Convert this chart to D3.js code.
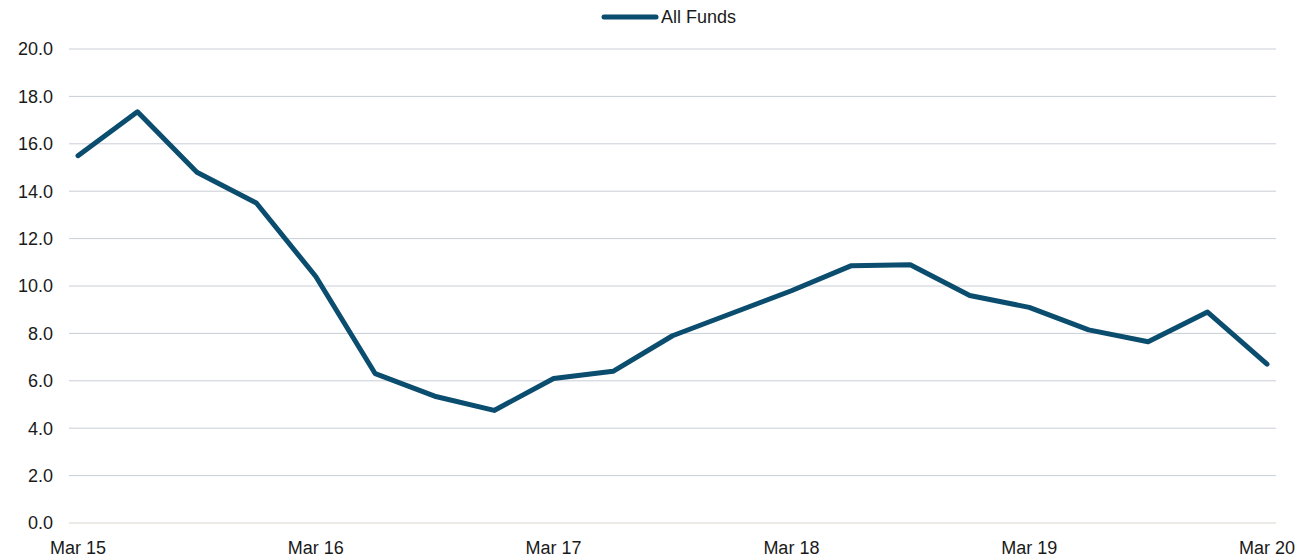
<!DOCTYPE html>
<html>
<head>
<meta charset="utf-8">
<script src="https://cdn.jsdelivr.net/npm/d3@7"></script>
<style>
  body { margin: 0; background: #fff; }
  svg text { font-family: "Liberation Sans", Arial, sans-serif; fill: #1a1a1a; }
</style>
</head>
<body>
<div class="chart"></div>
<script>
// quarterly points, Mar 15 .. Mar 20
const quarters = ['Mar 15','Jun 15','Sep 15','Dec 15','Mar 16','Jun 16','Sep 16','Dec 16',
  'Mar 17','Jun 17','Sep 17','Dec 17','Mar 18','Jun 18','Sep 18','Dec 18',
  'Mar 19','Jun 19','Sep 19','Dec 19','Mar 20'];
const allFunds = [15.5, 17.35, 14.8, 13.5, 10.4, 6.3, 5.35, 4.75,
  6.1, 6.4, 7.9, 8.85, 9.8, 10.85, 10.9, 9.6,
  9.1, 8.15, 7.65, 8.9, 6.7];
const yTicks = [0, 2, 4, 6, 8, 10, 12, 14, 16, 18, 20];
const xLabels = ['Mar 15','Mar 16','Mar 17','Mar 18','Mar 19','Mar 20'];
const seriesName = 'All Funds';

const width = 1307, height = 558;
const lineColor = '#0b4d6e';

const svg = d3.select('.chart').append('svg')
  .attr('width', width)
  .attr('height', height);

const x = d3.scaleLinear()
  .domain([0, quarters.length - 1])
  .range([78, 1267]);

const y = d3.scaleLinear()
  .domain([0, 20])
  .range([523, 49]);

// gridlines
svg.append('g')
  .selectAll('line')
  .data(yTicks)
  .join('line')
  .attr('x1', 69).attr('x2', 1276)
  .attr('y1', d => y(d)).attr('y2', d => y(d))
  .attr('stroke', d => d === 0 ? '#d9d4cf' : '#c9ced6')
  .attr('stroke-width', 1);

// y labels
svg.append('g')
  .selectAll('text')
  .data(yTicks)
  .join('text')
  .attr('x', 53)
  .attr('y', d => y(d))
  .attr('dy', '0.36em')
  .attr('text-anchor', 'end')
  .style('font-size', '18px')
  .text(d => d.toFixed(1));

// x labels
svg.append('g')
  .selectAll('text')
  .data(xLabels)
  .join('text')
  .attr('x', d => x(quarters.indexOf(d)))
  .attr('y', 554)
  .attr('text-anchor', 'middle')
  .style('font-size', '18px')
  .text(d => d);

const line = d3.line()
  .x((d, i) => x(i))
  .y(d => y(d));

svg.append('path')
  .datum(allFunds)
  .attr('d', line)
  .attr('fill', 'none')
  .attr('stroke', lineColor)
  .attr('stroke-width', 5)
  .attr('stroke-linejoin', 'round')
  .attr('stroke-linecap', 'round');

// legend
const lg = svg.append('g').attr('transform', 'translate(0,17)');
lg.append('line')
  .attr('x1', 604).attr('x2', 656)
  .attr('stroke', lineColor)
  .attr('stroke-width', 5)
  .attr('stroke-linecap', 'round');
lg.append('text')
  .attr('x', 661)
  .attr('dy', '0.36em')
  .style('font-size', '18px')
  .text(seriesName);
</script>
</body>
</html>
